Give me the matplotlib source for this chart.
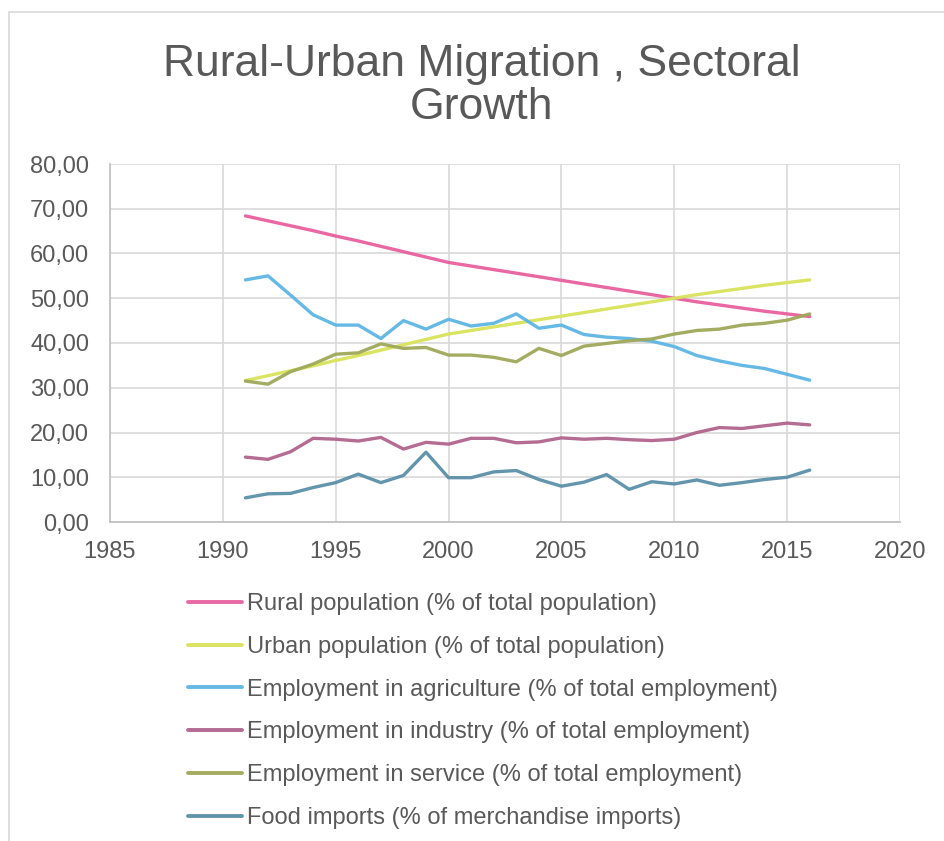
import matplotlib
matplotlib.use("Agg")
import matplotlib.pyplot as plt
from matplotlib.ticker import FuncFormatter, MultipleLocator
from matplotlib.patches import Rectangle

years = list(range(1991, 2017))
rural = [68.4, 67.3, 66.2, 65.1, 63.9, 62.8, 61.6, 60.4, 59.2, 58.0, 57.2, 56.4, 55.6,
         54.8, 54.0, 53.2, 52.4, 51.6, 50.8, 50.0, 49.2, 48.5, 47.8, 47.1, 46.5, 45.9]
urban = [31.6, 32.7, 33.8, 34.9, 36.1, 37.2, 38.4, 39.6, 40.8, 42.0, 42.8, 43.6, 44.4,
         45.2, 46.0, 46.8, 47.6, 48.4, 49.2, 50.0, 50.8, 51.5, 52.2, 52.9, 53.5, 54.1]
agriculture = [54.1, 55.0, 50.7, 46.3, 44.0, 44.0, 41.0, 45.0, 43.1, 45.3, 43.8, 44.4, 46.5,
               43.3, 44.0, 41.9, 41.3, 41.0, 40.4, 39.2, 37.2, 36.0, 35.0, 34.3, 33.0, 31.7]
industry = [14.5, 14.0, 15.7, 18.7, 18.5, 18.1, 18.9, 16.3, 17.8, 17.4, 18.7, 18.7, 17.7,
            17.9, 18.8, 18.5, 18.7, 18.4, 18.2, 18.5, 20.0, 21.1, 20.9, 21.5, 22.1, 21.7]
service = [31.5, 30.8, 33.6, 35.3, 37.5, 37.8, 39.8, 38.8, 39.0, 37.3, 37.3, 36.8, 35.8,
           38.8, 37.2, 39.3, 39.9, 40.5, 40.9, 42.0, 42.8, 43.1, 44.0, 44.4, 45.1, 46.5]
food = [5.4, 6.3, 6.4, 7.7, 8.8, 10.7, 8.8, 10.4, 15.6, 9.9, 9.9, 11.2, 11.5,
        9.5, 8.0, 8.9, 10.6, 7.3, 9.0, 8.5, 9.4, 8.2, 8.8, 9.5, 10.0, 11.6]

labels = ["Rural population (% of total population)",
          "Urban population (% of total population)",
          "Employment in agriculture (% of total employment)",
          "Employment in industry (% of total employment)",
          "Employment in service (% of total employment)",
          "Food imports (% of merchandise imports)"]
series = [rural, urban, agriculture, industry, service, food]
colors = ["#E8609F", "#D9E35A", "#5DB5E3", "#B0648C", "#9FA85A", "#5B8FA8"]

title = "Rural-Urban Migration , Sectoral\nGrowth"
txt = "#595959"

plt.rcParams['font.family'] = ['Liberation Sans', 'DejaVu Sans']

W, H = 944, 841
fig = plt.figure(figsize=(W/100, H/100), dpi=100)
fig.patch.set_facecolor("white")

# outer chart frame
fig.add_artist(Rectangle((9/W, 1 - 1000/H), 1000/W, (1000 - 12)/H, transform=fig.transFigure,
                         fill=False, edgecolor="#D9D9D9", linewidth=1.2))

ax = fig.add_axes([110/W, 1 - 522/H, 790/W, 358/H])
for s, c, l in zip(series, colors, labels):
    ax.plot(years, s, color=c, linewidth=2.4, label=l, solid_capstyle='round', alpha=0.95)

ax.set_xlim(1985, 2020)
ax.set_ylim(0, 80)
ax.xaxis.set_major_locator(MultipleLocator(5))
ax.yaxis.set_major_locator(MultipleLocator(10))
ax.yaxis.set_major_formatter(FuncFormatter(lambda v, p: f"{v:.2f}".replace(".", ",")))
ax.grid(True, color="#D9D9D9", linewidth=1.2)
ax.set_axisbelow(True)
for sp in ["top", "right"]:
    ax.spines[sp].set_visible(False)
for sp in ["left", "bottom"]:
    ax.spines[sp].set_color("#BFBFBF")
    ax.spines[sp].set_linewidth(1.2)
ax.tick_params(length=0, labelsize=17, labelcolor=txt)
ax.tick_params(axis="x", pad=14)
ax.tick_params(axis="y", pad=15)

fig.text(482/W, 1 - 44/H, title, ha="center", va="top", fontsize=32, color=txt,
         linespacing=1.05)

handles, labs = ax.get_legend_handles_labels()
leg = fig.legend(handles, labs, loc="upper left", bbox_to_anchor=(188/W, 1 - 593/H),
                 frameon=False, fontsize=17, handlelength=2.3, handletextpad=0.2,
                 labelspacing=0.88, borderaxespad=0, borderpad=0)
for t in leg.get_texts():
    t.set_color(txt)
for h in leg.get_lines():
    h.set_linewidth(2.8)

fig.savefig("out.png", dpi=100, facecolor="white")
